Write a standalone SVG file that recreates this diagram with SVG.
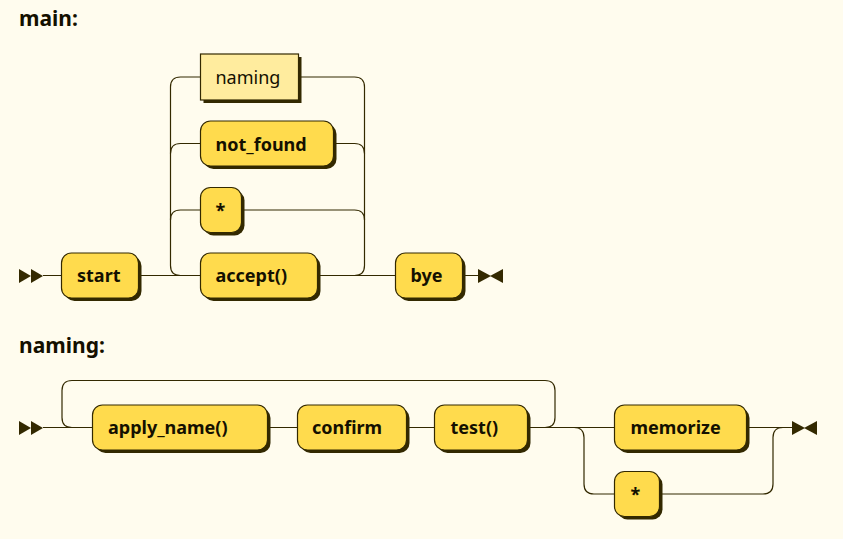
<svg xmlns="http://www.w3.org/2000/svg" width="843" height="539" viewBox="0 0 843 539">
<style>
.bg{fill:#FFFCEE}
.title{font-family:"Noto Sans","DejaVu Sans",sans-serif;font-weight:700;font-size:21px;fill:#141000}
.t{font-family:"Noto Sans","DejaVu Sans",sans-serif;font-weight:700;font-size:18px;fill:#141000}
.nt{font-family:"Noto Sans","DejaVu Sans",sans-serif;font-weight:400;font-size:18px;fill:#141000}
.term{fill:#FFDB4D;stroke:#332900;stroke-width:1.2}
.nonterm{fill:#FFEC9E;stroke:#332900;stroke-width:1.2}
.shadow{fill:#332900}
.line{fill:none;stroke:#332900;stroke-width:1.2}
.mark{fill:#332900}
</style>
<rect class="bg" x="0" y="0" width="843" height="539"/>
<text class="title" x="19" y="26">main:</text>
<text class="title" x="19" y="353">naming:</text>

<g id="connectors">
  <!-- main -->
  <polygon class="mark" points="19,269 31,276 19,283"/>
  <polygon class="mark" points="31,269 43,276 31,283"/>
  <path class="line" d="M43,275.5 H61.5 M138.5,275.5 H200.5 M317.5,275.5 H395.5 M462.5,275.5 H478"/>
  <path class="line" d="M180.5,275.5 Q170.5,275.5 170.5,265.5 V87 Q170.5,77 180.5,77 H200.5"/>
  <path class="line" d="M170.5,153.5 Q170.5,143.5 180.5,143.5 H200.5"/>
  <path class="line" d="M170.5,220 Q170.5,210 180.5,210 H200.5"/>
  <path class="line" d="M298.5,77 H354.5 Q364.5,77 364.5,87 V265.5 Q364.5,275.5 354.5,275.5"/>
  <path class="line" d="M333.5,143.5 H354.5 Q364.5,143.5 364.5,153.5"/>
  <path class="line" d="M241.5,210 H354.5 Q364.5,210 364.5,220"/>
  <polygon class="mark" points="478,269 491,276 478,283"/>
  <polygon class="mark" points="503,269 490,276 503,283"/>
  <!-- naming -->
  <polygon class="mark" points="19,421 31,428 19,435"/>
  <polygon class="mark" points="31,421 43,428 31,435"/>
  <path class="line" d="M43,427.5 H92.5 M267.5,427.5 H297.5 M406.5,427.5 H434.5 M527.5,427.5 H614.5 M746.5,427.5 H792"/>
  <path class="line" d="M72,427.5 Q62,427.5 62,417.5 V390.5 Q62,380.5 72,380.5 H545 Q555,380.5 555,390.5 V417.5 Q555,427.5 545,427.5"/>
  <path class="line" d="M574,427.5 Q584,427.5 584,437.5 V484 Q584,494 594,494 H614.5"/>
  <path class="line" d="M659.5,494 H763 Q773,494 773,484 V437.5 Q773,427.5 783,427.5"/>
  <polygon class="mark" points="792,421 805,428 792,435"/>
  <polygon class="mark" points="817,421 804,428 817,435"/>
</g>

<g id="node-start">
  <rect class="shadow" x="64.5" y="256" width="77" height="45" rx="10"/>
  <rect class="term" x="61.5" y="253" width="77" height="45" rx="10"/>
  <text class="t" x="77" y="282">start</text>
</g>
<g id="node-naming-ref">
  <rect class="shadow" x="203.5" y="57" width="98" height="46"/>
  <rect class="nonterm" x="200.5" y="54" width="98" height="46"/>
  <text class="nt" x="215.5" y="84">naming</text>
</g>
<g id="node-not_found">
  <rect class="shadow" x="203.5" y="124" width="133" height="45" rx="10"/>
  <rect class="term" x="200.5" y="121" width="133" height="45" rx="10"/>
  <text class="t" x="215.5" y="150.5">not_found</text>
</g>
<g id="node-star1">
  <rect class="shadow" x="203.5" y="190.5" width="41" height="45" rx="10"/>
  <rect class="term" x="200.5" y="187.5" width="41" height="45" rx="10"/>
  <text class="t" x="215.5" y="217">*</text>
</g>
<g id="node-accept">
  <rect class="shadow" x="203.5" y="256" width="117" height="45" rx="10"/>
  <rect class="term" x="200.5" y="253" width="117" height="45" rx="10"/>
  <text class="t" x="215.5" y="282">accept()</text>
</g>
<g id="node-bye">
  <rect class="shadow" x="398.5" y="256" width="67" height="45" rx="10"/>
  <rect class="term" x="395.5" y="253" width="67" height="45" rx="10"/>
  <text class="t" x="410.5" y="282">bye</text>
</g>

<g id="node-apply_name">
  <rect class="shadow" x="95.5" y="408" width="175" height="45" rx="10"/>
  <rect class="term" x="92.5" y="405" width="175" height="45" rx="10"/>
  <text class="t" x="108" y="434">apply_name()</text>
</g>
<g id="node-confirm">
  <rect class="shadow" x="300.5" y="408" width="109" height="45" rx="10"/>
  <rect class="term" x="297.5" y="405" width="109" height="45" rx="10"/>
  <text class="t" x="312" y="434">confirm</text>
</g>
<g id="node-test">
  <rect class="shadow" x="437.5" y="408" width="93" height="45" rx="10"/>
  <rect class="term" x="434.5" y="405" width="93" height="45" rx="10"/>
  <text class="t" x="450.5" y="434">test()</text>
</g>
<g id="node-memorize">
  <rect class="shadow" x="617.5" y="408" width="132" height="45" rx="10"/>
  <rect class="term" x="614.5" y="405" width="132" height="45" rx="10"/>
  <text class="t" x="630.5" y="434">memorize</text>
</g>
<g id="node-star2">
  <rect class="shadow" x="617.5" y="474.5" width="45" height="45" rx="10"/>
  <rect class="term" x="614.5" y="471.5" width="45" height="45" rx="10"/>
  <text class="t" x="630.5" y="500.5">*</text>
</g>
</svg>
